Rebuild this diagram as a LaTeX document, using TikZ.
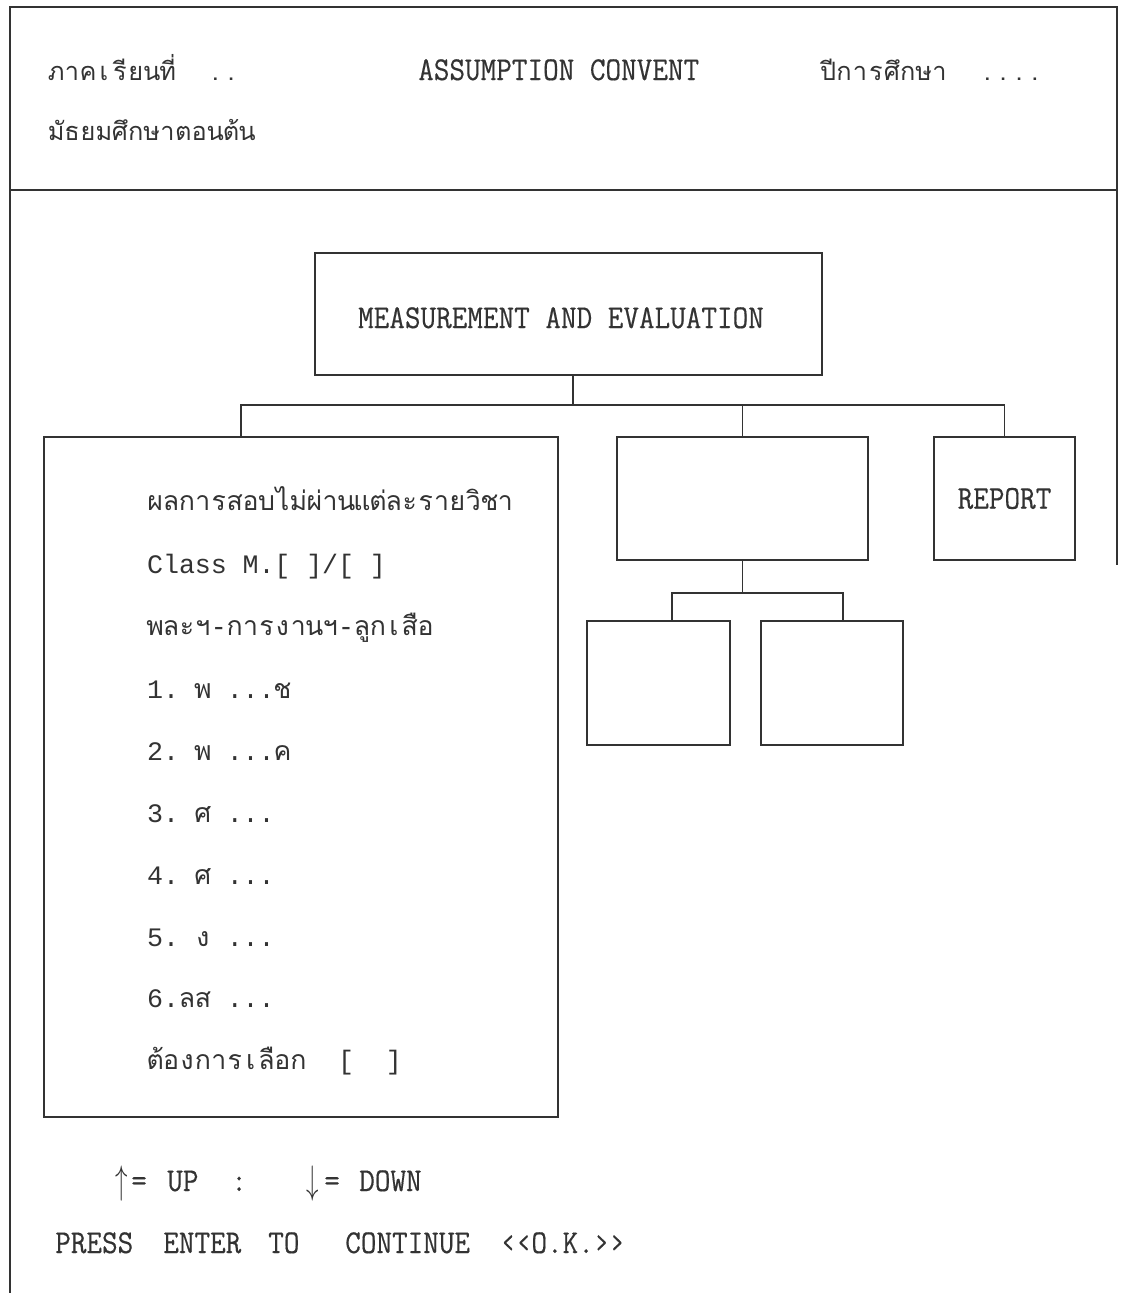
\documentclass[tikz,border=0pt]{standalone}
\usepackage{fontspec}
\setmainfont{Liberation Serif}
\newfontfamily\thai[Script=Thai]{Loma}
\newfontfamily\capsf[FakeStretch=0.909,FakeBold=0.4]{Latin Modern Mono}
\newfontfamily\monof{Liberation Mono}
% monospace cells (one printer column = 11.93pt)
\newlength\cw \setlength\cw{11.93pt}
\def\mkstop{\mkstop}
\def\mkstopm{\mkstop}
\newcommand\mono[1]{\monoi#1\mkstop}
\def\monoi#1{\def\mtmp{#1}\ifx\mtmp\mkstopm\else\makebox[\cw][c]{#1}\expandafter\monoi\fi}
\begin{document}
\begin{tikzpicture}[x={(0.75pt,0)},y={(0,-0.75pt)},
  ln/.style={draw=black!80,line width=1.3pt},
  boxn/.style={ln,rectangle,inner sep=0pt,outer sep=0pt},
  txt/.style={anchor=base west,inner sep=0pt,text=black!80},
  capt/.style={txt,font=\capsf\fontsize{25}{30}\selectfont},
  thait/.style={txt,font=\thai\fontsize{20}{24}\selectfont},
  headt/.style={txt,font=\thai\fontsize{19}{23}\selectfont},
  monot/.style={txt,font=\monof\fontsize{20}{24}\selectfont},
  arrt/.style={txt,font=\fontsize{25}{30}\selectfont}]
\useasboundingbox (0,0) rectangle (1121,1293);
% frame
\coordinate (f1) at (10,1293);
\coordinate (f2) at (10,7);
\coordinate (f3) at (1117,7);
\coordinate (f4) at (1117,565);
\coordinate (h1) at (10,190);
\coordinate (h2) at (1117,190);
\draw[ln] (f1) -- (f2) -- (f3) -- (f4);
\draw[ln] (h1) -- (h2);
% header
\node[headt] (hA) at (48,80) {\mono{ภาคเ{รี}ยน{ที่}~~..}};
\node[capt] (hB) at (418,80) {ASSUMPTION CONVENT};
\node[headt] (hC) at (820,80) {\mono{{ปี}การ{ศึ}กษา~~....}};
\node[headt] (hD) at (48,140) {\mono{{มั}ธยม{ศึ}กษาตอน{ต้}น}};
% boxes
\node[boxn,minimum width=380.25pt,minimum height=91.5pt] (top) at (568.5,314) {};
\node[capt,anchor=base] (topt) at (561,328) {MEASUREMENT AND EVALUATION};
\node[boxn,minimum width=385.5pt,minimum height=510pt] (left) at (301,777) {};
\node[boxn,minimum width=188.25pt,minimum height=92.25pt] (mid) at (742.5,498.5) {};
\node[boxn,minimum width=105.75pt,minimum height=92.25pt,font=\capsf\fontsize{25}{30}\selectfont,text=black!80] (rep) at (1004.5,498.5) {REPORT};
\node[boxn,minimum width=107.25pt,minimum height=93pt] (sub1) at (658.5,683) {};
\node[boxn,minimum width=106.5pt,minimum height=93pt] (sub2) at (832,683) {};
% connectors
\coordinate (t0) at (573,405);
\coordinate (b1) at (241,405);
\coordinate (b2) at (1004.5,405);
\draw[ln] (t0 |- top.south) -- (t0);
\draw[ln] (b1 |- left.north) -- (b1) -- (b2) -- (rep.north);
\draw[ln] (mid.north) -- (mid.north |- b1);
\coordinate (s1) at (672,593);
\coordinate (s2) at (843,593);
\draw[ln] (mid.south) -- (mid.south |- s1);
\draw[ln] (s1 |- sub1.north) -- (s1) -- (s2) -- (s2 |- sub2.north);
% left box text
\node[thait] (l1) at (147,510) {\mono{ผลการสอบไ{ม่}{ผ่}านแ{ต่}ละราย{วิ}ชา}};
\node[monot] (l2) at (147,573) {\mono{Class~M.[~]/[~]}};
\node[thait] (l3) at (147,635) {\mono{พละฯ-การงานฯ-{ลู}กเ{สื}อ}};
\node[monot] (l4) at (147,698) {\mono{1.~{\thai พ}~...{\thai ช}}};
\node[monot] (l5) at (147,760) {\mono{2.~{\thai พ}~...{\thai ค}}};
\node[monot] (l6) at (147,822) {\mono{3.~{\thai ศ}~...}};
\node[monot] (l7) at (147,884) {\mono{4.~{\thai ศ}~...}};
\node[monot] (l8) at (147,946) {\mono{5.~{\thai ง}~...}};
\node[monot] (l9) at (147,1007) {\mono{6.{\thai ล}{\thai ส}~...}};
\node[thait] (l10) at (147,1069) {\mono{{ต้}องการเ{ลื}อก~~{\monof [}~~{\monof ]}}};
% bottom
\node[arrt] (ua) at (115,1193) {\scalebox{0.75}[1.2]{$\uparrow$}};
\node[capt] (ub) at (131,1191) {=};
\node[capt] (uc) at (167,1191) {UP};
\node[capt] (ud) at (231,1191) {:};
\node[arrt] (da) at (306,1193) {\scalebox{0.75}[1.2]{$\downarrow$}};
\node[capt] (db) at (324,1191) {=};
\node[capt] (dc) at (359,1191) {DOWN};
\node[capt] (p1) at (55,1253) {PRESS};
\node[capt] (p2) at (163,1253) {ENTER};
\node[capt] (p3) at (268,1253) {TO};
\node[capt] (p4) at (345,1253) {CONTINUE};
\node[capt] (p5) at (500,1253) {‹‹O.K.››};
\end{tikzpicture}
\end{document}
